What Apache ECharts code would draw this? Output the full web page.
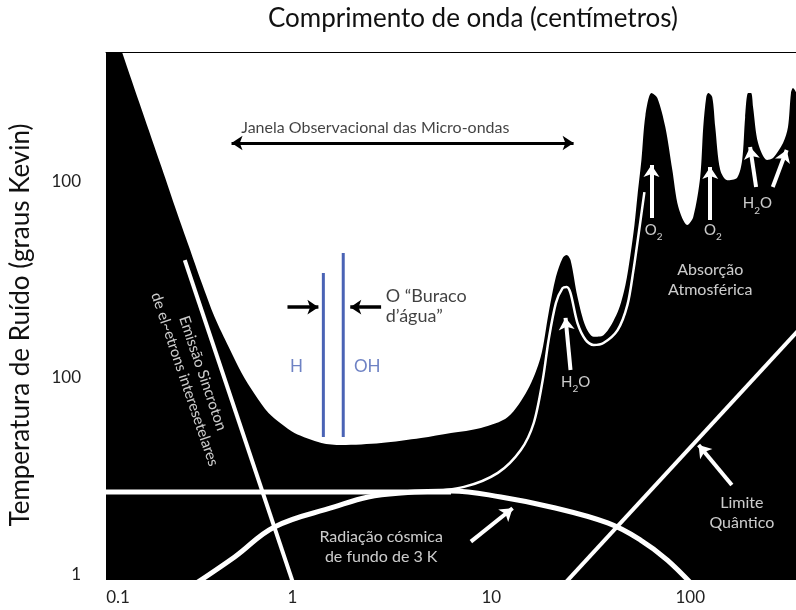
<!DOCTYPE html>
<html>
<head>
<meta charset="utf-8">
<script src="https://cdn.jsdelivr.net/npm/echarts@6/dist/echarts.min.js"></script>
<style>
  html, body { margin: 0; padding: 0; background: #fff; }
  #chart { width: 796px; height: 610px; }
</style>
</head>
<body>
<div id="chart"></div>
<script>
// axis ranges (log scales)
const xMin = 0.1155, xMax = 340;
const yMin = 0.943, yMax = 452;

// ticks and tick labels
const xTickValues = [1, 10, 100];
const xLabelValues = [0.1156, 1, 10, 100];
const xTickLabels = ['0.1', '1', '10', '100'];
const yTickValues = [1, 10, 100];
const yTickLabels = ['1', '100', '100'];
const yRightTickValues = [10.98, 117.8];

// upper edge of the black noise region
const noiseCurve = [
  [0.1155, 800], [0.139, 452], [0.175, 229], [0.2204, 116.4], [0.262, 69.6], [0.301, 46.8],
  [0.350, 30.35], [0.406, 20.4], [0.478, 14.37], [0.555, 10.6], [0.645, 8.29], [0.758, 6.64],
  [0.881, 5.84], [1.023, 5.26], [1.398, 4.68], [1.761, 4.57], [2.793, 4.68], [4.433, 4.96],
  [6.266, 5.26], [8.86, 5.58], [12.1, 6.34], [15.2, 8.69], [17.7, 12.8], [19.4, 21.4],
  [21.1, 32.6], [22.8, 40.6], [23.9, 42.1], [25.0, 39.7], [27.1, 25.8], [29.8, 18.2],
  [32.7, 16.2], [36.6, 16.5], [43.1, 21.6], [47.2, 29.7], [50.0, 42.1], [52.4, 59.8],
  [54.3, 84.9], [56.8, 128], [59.5, 216], [63.8, 280], [68.3, 264], [74.9, 188],
  [81.2, 114], [87.1, 73.8], [96.6, 59.8], [103.5, 65.7], [112.2, 105], [116.2, 188],
  [120.3, 267], [123.1, 280], [128.9, 267], [133.5, 188], [141.4, 114], [153.3, 101],
  [172.0, 104], [182.3, 128], [188.7, 211], [195.3, 280], [202.2, 280], [206.9, 237],
  [219.2, 156], [243.2, 128], [260.6, 131], [292.6, 156], [309.9, 188], [320.8, 280],
  [328.4, 297], [340, 283]
];

// thin white curve (system noise)
const systemCurve = [
  [4.43, 2.64], [7.28, 2.80], [10.78, 3.30], [14.06, 4.31], [16.33, 5.91], [18.12, 9.77],
  [19.4, 15.6], [21.1, 24.0], [22.8, 28.6], [23.9, 29.0], [25.0, 27.0], [27.1, 19.0],
  [29.8, 15.6], [32.7, 14.7], [36.6, 15.05], [43.1, 17.5], [48.3, 23.5], [51.8, 35.3],
  [54.9, 53.2], [58.8, 87.9]
];

// 3 K background
const cmbFlat = [[0.1155, 2.64], [6.27, 2.64]];
const cmbArch = [
  [0.291, 0.839], [0.512, 1.234], [0.812, 1.753], [1.624, 2.214], [2.404, 2.489],
  [3.519, 2.608], [6.27, 2.669], [11.16, 2.489], [19.87, 2.214], [38.4, 1.837],
  [56.2, 1.505], [76.7, 1.191], [108.4, 0.839]
];

const synchrotronLine = [[0.2875, 39.7], [1.035, 0.839]];
const quantumLine = [[21.8, 0.839], [381, 19.2]];

// water hole lines
const hLine = [[1.43, 34.1], [1.43, 5.02]];
const ohLine = [[1.80, 43.1], [1.80, 5.02]];

// arrows
const windowArrow = [[0.494, 156], [25.9, 156]];
const blackArrows = [
  [[0.944, 22.9], [1.35, 22.9]],
  [[2.79, 22.9], [1.953, 22.9]]
];
const whiteArrows = [
  [[25.0, 10.98], [23.6, 20.2]],
  [[63.8, 64.9], [63.8, 120.6]],
  [[126.0, 63.4], [126.0, 117.8]],
  [[214.2, 93.2], [199.9, 148.8]],
  [[259.8, 93.2], [305.3, 143.7]],
  [[161.8, 2.863], [110.1, 4.57]],
  [[7.89, 1.476], [12.78, 2.181]]
];

// annotations
const windowNote = ['Janela Observacional das Micro-ondas', [2.61, 185.8]];
const holeNote = ['O “Buraco\nd’água”', [2.925, 23.07]];
const blueNotes = [['H', [1.047, 11.5]], ['OH', [2.377, 11.5]]];
const whiteNotes = [
  ['Absorção\nAtmosférica', [126.0, 31.6]],
  ['Limite\nQuântico', [181.6, 2.057]],
  ['Radiação cósmica\nde fundo de 3 K', [2.793, 1.387]]
];
const chemNotes = [
  ['H2O', [26.5, 9.58]], ['O2', [65.5, 56.4]], ['O2', [130.0, 56.4]], ['H2O', [217.6, 77.1]]
];
const synchrotronNote = ['Emissão Sincroton\nde el~etrons interesetelares', [0.319, 10.2]];

const font = 'Lato';
const blue = '#4a63b5';

function nearestLabel(values, labels, v) {
  let best = 0;
  values.forEach((t, i) => {
    if (Math.abs(Math.log10(t) - Math.log10(v)) < Math.abs(Math.log10(values[best]) - Math.log10(v))) best = i;
  });
  return labels[best];
}

function lineSeries(data, width, color, smooth) {
  return {
    type: 'line', data: data, smooth: smooth || false, symbol: 'none', silent: true,
    lineStyle: { color: color, width: width }, z: 3
  };
}

function noteItem(note, label) {
  return { value: note[1], label: Object.assign({ show: true, formatter: note[0] }, label) };
}

const chemRich = { s: { fontSize: 10, color: '#fff', fontFamily: font, verticalAlign: 'bottom', lineHeight: 24 } };

const chart = echarts.init(document.getElementById('chart'));

chart.setOption({
  animation: false,
  textStyle: { fontFamily: font },
  grid: { left: 104, right: 0, top: 52, bottom: 30 },
  xAxis: [
    {
      type: 'log', min: xMin, max: xMax, position: 'bottom',
      axisLine: { show: false },
      splitLine: { show: false },
      axisTick: { show: true, inside: true, length: 18, customValues: xTickValues, lineStyle: { color: '#fff', width: 2 } },
      axisLabel: {
        customValues: xLabelValues, margin: 9, fontSize: 17, color: '#222', fontFamily: font,
        formatter: v => {
          const t = nearestLabel(xLabelValues, xTickLabels, v);
          return t === '0.1' ? '{p|' + t + '}' : t;
        },
        rich: { p: { fontSize: 17, color: '#222', fontFamily: font, padding: [0, 0, 0, 24] } }
      }
    },
    {
      type: 'log', min: xMin, max: xMax, position: 'top',
      name: 'Comprimento de onda (centímetros)', nameLocation: 'middle', nameGap: 20,
      nameTextStyle: { fontSize: 26, color: '#111', fontFamily: font, padding: [0, 0, 0, 44] },
      axisLine: { show: true, lineStyle: { color: '#000', width: 1 } },
      axisTick: { show: false }, axisLabel: { show: false }, splitLine: { show: false }
    }
  ],
  yAxis: [
    {
      type: 'log', min: yMin, max: yMax,
      name: 'Temperatura de Ruído (graus Kevin)', nameLocation: 'middle', nameGap: 72,
      nameTextStyle: { fontSize: 26, color: '#111', fontFamily: font, padding: [0, 18, 0, 0] },
      axisLine: { show: false },
      splitLine: { show: false },
      axisTick: { show: true, inside: true, length: 18, customValues: [10, 100], lineStyle: { color: '#fff', width: 2 } },
      axisLabel: {
        customValues: yTickValues, margin: 25, fontSize: 17, color: '#222', fontFamily: font,
        formatter: v => nearestLabel(yTickValues, yTickLabels, v)
      }
    },
    {
      type: 'log', min: yMin, max: yMax, position: 'right',
      axisLine: { show: false }, splitLine: { show: false }, axisLabel: { show: false },
      axisTick: { show: true, inside: true, length: 5, customValues: yRightTickValues, lineStyle: { color: '#fff', width: 2 } }
    }
  ],
  series: [
    {
      type: 'line', data: noiseCurve, smooth: 0.3, symbol: 'none', silent: true, z: 1,
      lineStyle: { width: 0 },
      areaStyle: { color: '#000', opacity: 1, origin: 'start' }
    },
    lineSeries(cmbFlat, 5, '#fff'),
    lineSeries(cmbArch, 5, '#fff', 0.4),
    lineSeries(systemCurve, 2.5, '#fff', 0.3),
    lineSeries(synchrotronLine, 4, '#fff'),
    lineSeries(quantumLine, 4, '#fff'),
    lineSeries(hLine, 3, blue),
    lineSeries(ohLine, 3, blue),
    {
      type: 'lines', coordinateSystem: 'cartesian2d', silent: true, z: 5,
      symbol: ['arrow', 'arrow'], symbolSize: 11,
      lineStyle: { color: '#000', width: 3, opacity: 1, curveness: 0 },
      data: [{ coords: windowArrow }]
    },
    {
      type: 'lines', coordinateSystem: 'cartesian2d', silent: true, z: 5,
      symbol: ['none', 'arrow'], symbolSize: 11,
      lineStyle: { color: '#000', width: 3.5, opacity: 1, curveness: 0 },
      data: blackArrows.map(c => ({ coords: c }))
    },
    {
      type: 'lines', coordinateSystem: 'cartesian2d', silent: true, z: 5,
      symbol: ['none', 'arrow'], symbolSize: 12,
      lineStyle: { color: '#fff', width: 4, opacity: 1, curveness: 0 },
      data: whiteArrows.map(c => ({ coords: c }))
    },
    {
      type: 'scatter', symbolSize: 1, silent: true, z: 10,
      itemStyle: { color: 'rgba(0,0,0,0)' },
      data: [
        noteItem(windowNote, { position: 'inside', color: '#111', fontSize: 16 }),
        noteItem(holeNote, { position: 'right', distance: 0, align: 'left', color: '#111', fontSize: 18, lineHeight: 20 }),
        ...blueNotes.map(n => noteItem(n, { position: 'inside', color: blue, fontSize: 17 })),
        ...whiteNotes.map(n => noteItem(n, { position: 'inside', color: '#fff', fontSize: 16, lineHeight: 20 })),
        ...chemNotes.map(n => noteItem([n[0].replace(/(\d)/, '{s|$1}'), n[1]],
          { position: 'inside', color: '#fff', fontSize: 15, lineHeight: 18, rich: chemRich })),
        noteItem(synchrotronNote, { position: 'inside', color: '#fff', fontSize: 15, lineHeight: 19, rotate: -71.3 })
      ]
    }
  ]
});
</script>
</body>
</html>
